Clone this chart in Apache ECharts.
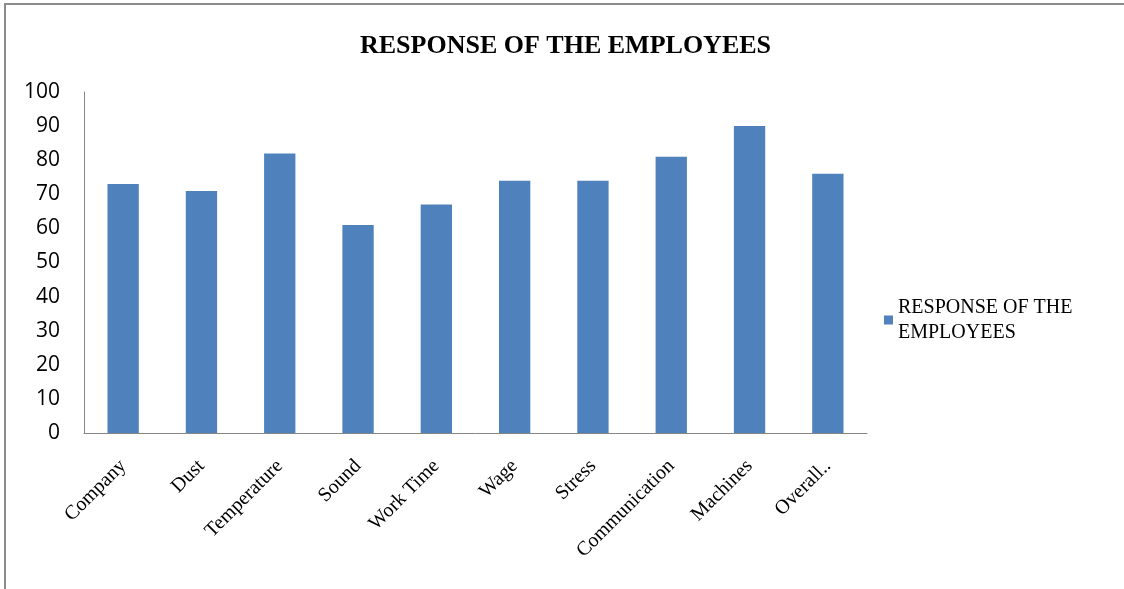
<!DOCTYPE html>
<html>
<head>
<meta charset="utf-8">
<title>Response of the employees</title>
<script src="https://cdn.jsdelivr.net/npm/echarts@6/dist/echarts.min.js"></script>
<style>
  html, body { margin: 0; padding: 0; background: #fff; }
  #main { width: 1124px; height: 589px; }
</style>
</head>
<body>
<div id="main"></div>
<script>
// data
const categories = ['Company', 'Dust', 'Temperature', 'Sound', 'Work Time', 'Wage', 'Stress', 'Communication', 'Machines', 'Overall..'];
const responses = [73, 71, 82, 61, 67, 74, 74, 81, 90, 76];
const seriesName = 'RESPONSE OF THE EMPLOYEES';

let chart = echarts.init(document.getElementById('main'));

let option = {
  backgroundColor: '#fff',
  animation: false,
  title: {
    text: seriesName,
    left: 355,
    top: 28,
    textStyle: {
      fontFamily: 'Liberation Serif',
      fontWeight: 'bold',
      fontSize: 26,
      color: '#000'
    }
  },
  legend: {
    orient: 'vertical',
    left: 879,
    top: 290,
    icon: 'rect',
    itemWidth: 9,
    itemHeight: 9,
    formatter: () => 'RESPONSE OF THE\nEMPLOYEES',
    textStyle: {
      fontFamily: 'Liberation Serif',
      fontSize: 20,
      color: '#000',
      lineHeight: 25
    },
    data: [seriesName]
  },
  grid: {
    left: 84,
    right: 257,
    top: 92,
    bottom: 156,
    containLabel: false
  },
  xAxis: {
    type: 'category',
    data: categories,
    axisLine: { lineStyle: { color: '#868686', width: 1 } },
    axisTick: { show: false },
    axisLabel: {
      rotate: 45,
      interval: 0,
      margin: 30,
      fontFamily: 'Liberation Serif',
      fontSize: 20,
      color: '#000'
    }
  },
  yAxis: {
    type: 'value',
    min: 0,
    max: 100,
    interval: 10,
    axisLine: { show: true, lineStyle: { color: '#868686', width: 1 } },
    axisTick: { show: false },
    splitLine: { show: false },
    axisLabel: {
      margin: 24,
      fontFamily: 'Open Sans',
      fontSize: 21,
      color: '#000'
    }
  },
  series: [{
    name: seriesName,
    type: 'bar',
    data: responses,
    barWidth: '40%',
    itemStyle: { color: '#4F81BD' }
  }],
  graphic: [{
    type: 'polyline',
    shape: { points: [[5, 589], [5, 4], [1124, 4]] },
    style: { stroke: '#8c8c8c', lineWidth: 2, fill: null },
    silent: true
  }]
};

chart.setOption(option);
</script>
</body>
</html>
